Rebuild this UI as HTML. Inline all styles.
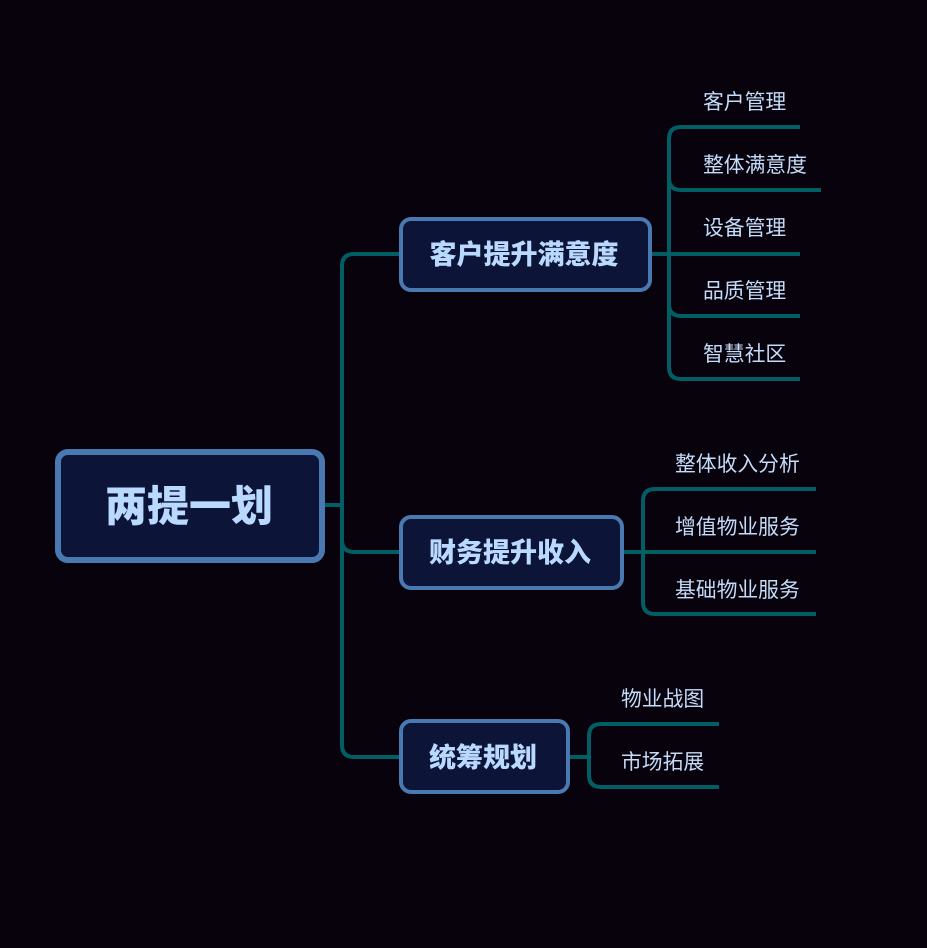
<!DOCTYPE html>
<html><head><meta charset="utf-8"><style>
html,body{margin:0;padding:0;background:#08020d;}
svg{display:block}
.t{font-family:"Liberation Sans","Noto Sans CJK SC",sans-serif;fill:#c4dcf8;font-size:20.8px}
.b{font-family:"Liberation Sans","Noto Sans CJK SC",sans-serif;fill:#b9d9ff;font-weight:900}
</style></head><body>
<svg width="927" height="948" viewBox="0 0 927 948">
<rect width="927" height="948" fill="#08020d"/>
<g fill="none" stroke="#005e64" stroke-width="4" stroke-linecap="butt">
<path d="M325 505 H342"/>
<path d="M400 254 H354 Q342 254 342 266 V745 Q342 757 354 757 H400"/>
<path d="M342 540 Q342 552 354 552 H400"/>
<path d="M651 254 H800"/>
<path d="M800 127 H681 Q669 127 669 139 V367 Q669 379 681 379 H800"/>
<path d="M669 178 Q669 190 681 190 H821"/>
<path d="M669 304 Q669 316 681 316 H800"/>
<path d="M623 552 H816"/>
<path d="M816 489 H655 Q643 489 643 501 V602 Q643 614 655 614 H816"/>
<path d="M569 757 H589"/>
<path d="M719 724 H601 Q589 724 589 736 V775 Q589 787 601 787 H719"/>
</g>
<rect x="58" y="452" width="264" height="108" rx="10" fill="#0c1437" stroke="#4a78b0" stroke-width="6"/>
<text class="b" x="189" y="521" font-size="42" text-anchor="middle">两提一划</text>
<g fill="#0c1437" stroke="#4a78b0" stroke-width="4">
<rect x="401" y="219" width="249" height="71" rx="10"/>
<rect x="401" y="517" width="221" height="71" rx="10"/>
<rect x="401" y="721" width="167" height="71" rx="10"/>
</g>
<text class="b" x="524" y="264" font-size="27" text-anchor="middle">客户提升满意度</text>
<text class="b" x="510" y="562" font-size="27" text-anchor="middle">财务提升收入</text>
<text class="b" x="483" y="767" font-size="27" text-anchor="middle">统筹规划</text>
<g class="t">
<text x="703" y="109">客户管理</text>
<text x="703" y="172">整体满意度</text>
<text x="703" y="235">设备管理</text>
<text x="703" y="298">品质管理</text>
<text x="703" y="361">智慧社区</text>
<text x="675" y="471">整体收入分析</text>
<text x="675" y="534">增值物业服务</text>
<text x="675" y="597">基础物业服务</text>
<text x="621" y="706">物业战图</text>
<text x="621" y="769">市场拓展</text>
</g>
</svg>
</body></html>
